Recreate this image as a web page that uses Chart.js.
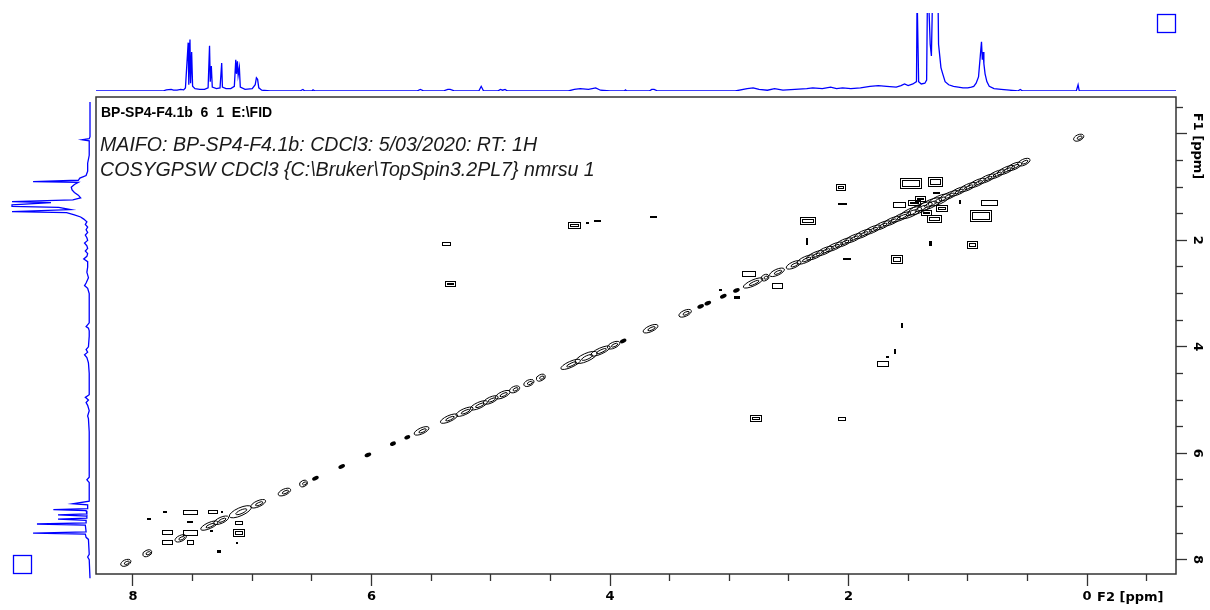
<!DOCTYPE html>
<html>
<head>
<meta charset="utf-8">
<script src="https://cdn.jsdelivr.net/npm/chart.js@4.4.1/dist/chart.umd.min.js"></script>
<style>
  html, body { margin: 0; padding: 0; background: #fff; }
  #wrap { position: relative; width: 1210px; height: 610px; }
  #wrap canvas { position: absolute; left: 0; top: 0; }
</style>
</head>
<body>
<div id="wrap">
  <canvas id="cosy" width="1210" height="610"></canvas>
  <canvas id="projTop" width="1210" height="100"></canvas>
  <canvas id="projLeft" width="100" height="610"></canvas>
</div>
<script>
// spectral windows (ppm)
const f2Window = [-0.746, 8.31];
const f1Window = [-0.695, 8.27];
const f2Labels = [8, 6, 4, 2, 0];
const f1Labels = [2, 4, 6, 8];

// 1D projection along F2 (top trace): shift, relative height
const topShift = [8.31, 7.75, 7.72, 7.68, 7.66, 7.63, 7.60, 7.575, 7.56, 7.537, 7.532, 7.522, 7.517, 7.508, 7.50, 7.48, 7.44, 7.40, 7.37, 7.358, 7.352, 7.343, 7.335, 7.30, 7.27, 7.256, 7.25, 7.22, 7.18, 7.15, 7.138, 7.132, 7.124, 7.118, 7.108, 7.10, 7.06, 7.00, 6.975, 6.965, 6.955, 6.945, 6.92, 6.85, 6.60, 6.575, 6.56, 6.50, 6.49, 6.475, 5.62, 5.59, 5.56, 5.40, 5.36, 5.34, 5.30, 5.10, 5.08, 5.06, 4.94, 4.92, 4.90, 4.88, 4.86, 4.35, 4.30, 4.25, 4.18, 4.12, 4.08, 4.00, 3.88, 3.87, 3.86, 3.67, 3.65, 3.63, 3.60, 2.95, 2.85, 2.80, 2.75, 2.68, 2.62, 2.55, 2.45, 2.35, 2.30, 2.22, 2.15, 2.10, 2.05, 1.98, 1.90, 1.82, 1.75, 1.68, 1.60, 1.56, 1.53, 1.50, 1.46, 1.43, 1.425, 1.418, 1.412, 1.39, 1.36, 1.345, 1.338, 1.33, 1.315, 1.305, 1.295, 1.28, 1.265, 1.25, 1.245, 1.235, 1.225, 1.21, 1.19, 1.16, 1.12, 1.08, 1.04, 1.00, 0.97, 0.95, 0.93, 0.91, 0.895, 0.885, 0.878, 0.872, 0.865, 0.855, 0.84, 0.82, 0.78, 0.72, 0.65, 0.58, 0.56, 0.54, 0.09, 0.075, 0.065, -0.75];
const topHeight = [0, 0, 1.5, 2, 1, 1, 2, 1.5, 4, 62, 8, 66, 10, 50, 6, 3, 2, 2, 4, 58, 12, 32, 5, 3, 4, 36, 5, 3, 3, 6, 40, 22, 38, 20, 30, 5, 2, 3, 8, 17, 15, 4, 1, 0, 0, 2, 0, 0, 1.5, 0, 0, 2, 0, 0, 2, 2, 0, 0, 6, 0, 0, 2, 1, 2, 0, 0, 2, 3, 2, 4, 1, 0, 0, 1.5, 0, 0, 2, 2, 0, 0, 3, 4, 2, 1, 3, 1, 2, 3, 4, 3, 5, 3, 4, 3, 4, 6, 7, 6, 5, 7, 9, 7, 9, 12, 125, 125, 12, 9, 10, 14, 125, 125, 60, 45, 125, 125, 125, 125, 60, 45, 30, 22, 12, 8, 6, 5, 4, 4, 5, 6, 10, 18, 45, 63, 40, 50, 35, 22, 12, 6, 3, 2, 1, 0, 2, 0, 0, 8, 0, 0];

// 1D projection along F1 (left trace): shift, relative height
const leftShift = [-0.6, 0.05, 0.09, 0.11, 0.13, 0.40, 0.55, 0.70, 0.78, 0.83, 0.87, 0.895, 0.91, 0.95, 1.00, 1.05, 1.10, 1.15, 1.20, 1.24, 1.27, 1.29, 1.33, 1.36, 1.38, 1.42, 1.46, 1.48, 1.52, 1.56, 1.60, 1.65, 1.70, 1.75, 1.80, 1.85, 1.90, 1.95, 2.00, 2.05, 2.10, 2.15, 2.20, 2.25, 2.30, 2.35, 2.40, 2.50, 2.60, 2.70, 2.80, 2.85, 2.90, 3.00, 3.30, 3.55, 3.62, 3.65, 3.70, 3.80, 4.00, 4.05, 4.10, 4.15, 4.20, 4.25, 4.30, 4.50, 4.90, 4.95, 5.00, 5.05, 5.10, 5.20, 5.30, 5.35, 5.60, 5.90, 6.45, 6.50, 6.55, 6.90, 6.95, 6.97, 7.04, 7.06, 7.08, 7.14, 7.16, 7.18, 7.22, 7.24, 7.26, 7.31, 7.33, 7.35, 7.48, 7.50, 7.52, 7.58, 7.62, 7.90, 7.95, 8.00, 8.35];
const leftHeight = [0, 0, 1, 10, 1, 1, 3, 3, 5, 13, 15, 73, 15, 20, 24, 23, 20, 15, 12, 22, 100, 50, 100, 100, 40, 25, 100, 30, 20, 12, 8, 4, 6, 3, 5, 3, 6, 4, 3, 7, 4, 3, 6, 3, 4, 8, 3, 3, 4, 2, 5, 7, 3, 1, 1, 1, 5, 2, 1, 1, 2, 5, 3, 7, 4, 3, 2, 1, 1, 6, 2, 5, 3, 1, 3, 2, 1, 1, 1, 4, 1, 1, 22, 3, 3, 47, 5, 4, 41, 4, 4, 41, 5, 5, 68, 6, 5, 73, 6, 5, 2, 1, 3, 1, 0];

// diagonal peaks: centre shift and half extent along the diagonal (ppm)
const diagShift = [8.06, 7.88, 7.60, 7.36, 7.26, 7.10, 6.95, 6.73, 6.57, 6.47, 6.25, 6.03, 5.82, 5.70, 5.58, 5.35, 5.22, 5.10, 5.00, 4.90, 4.80, 4.68, 4.58, 4.33, 4.20, 4.08, 3.97, 3.89, 3.66, 3.37, 3.24, 3.18, 3.05, 2.94, 2.80, 2.70, 2.60, 2.46, 2.36, 2.28, 2.20, 2.12, 2.04, 1.96, 1.88, 1.80, 1.72, 1.64, 1.56, 1.48, 1.40, 1.32, 1.24, 1.16, 1.08, 1.00, 0.92, 0.84, 0.76, 0.68, 0.61, 0.53, 0.07];
const diagHalf = [0.03, 0.025, 0.035, 0.06, 0.05, 0.08, 0.05, 0.04, 0.02, 0.015, 0.015, 0.015, 0.012, 0.012, 0.05, 0.06, 0.06, 0.06, 0.05, 0.05, 0.03, 0.03, 0.025, 0.07, 0.08, 0.07, 0.04, 0.015, 0.05, 0.04, 0.015, 0.015, 0.015, 0.015, 0.07, 0.02, 0.05, 0.05, 0.06, 0.06, 0.06, 0.06, 0.06, 0.06, 0.06, 0.06, 0.06, 0.06, 0.07, 0.08, 0.09, 0.09, 0.08, 0.07, 0.06, 0.06, 0.06, 0.06, 0.06, 0.06, 0.05, 0.04, 0.03];

// cross peaks: F2 shift, F1 shift, extent in F2, extent in F1 (ppm)
const crossF2 = [2.07, 2.05, 1.476, 1.275, 2.344, 2.35, 2.01, 1.60, 1.31, 0.96, 0.82, 0.89, 1.58, 1.28, 1.065, 1.26, 1.40, 1.45, 1.22, 1.35, 5.37, 5.34, 4.30, 4.19, 4.10, 3.635, 2.84, 2.60, 3.07, 2.935, 1.55, 1.61, 1.67, 1.715, 2.06, 2.78, 7.73, 7.52, 7.33, 7.25, 7.87, 7.52, 7.115, 7.71, 7.52, 7.34, 7.12, 7.71, 7.52, 7.13, 7.28];
const crossF1 = [1.00, 1.32, 0.92, 0.89, 1.63, 2.02, 2.35, 2.35, 2.06, 2.08, 1.28, 1.52, 1.325, 1.58, 1.28, 1.11, 1.22, 1.30, 1.40, 1.48, 2.06, 2.81, 1.71, 1.67, 1.635, 1.56, 2.62, 2.85, 2.93, 3.07, 3.60, 4.10, 4.19, 4.31, 5.35, 5.34, 7.10, 7.105, 7.10, 7.10, 7.24, 7.29, 7.30, 7.48, 7.49, 7.46, 7.49, 7.67, 7.67, 7.69, 7.84];
const crossWidth = [0.075, 0.075, 0.18, 0.12, 0.125, 0.02, 0.07, 0.09, 0.025, 0.085, 0.13, 0.18, 0.10, 0.12, 0.02, 0.06, 0.08, 0.10, 0.09, 0.08, 0.07, 0.085, 0.10, 0.025, 0.06, 0.06, 0.11, 0.085, 0.025, 0.05, 0.02, 0.02, 0.025, 0.09, 0.06, 0.09, 0.03, 0.12, 0.075, 0.02, 0.03, 0.05, 0.06, 0.085, 0.12, 0.025, 0.09, 0.085, 0.05, 0.02, 0.03];
const crossHeight = [0.11, 0.03, 0.19, 0.17, 0.13, 0.13, 0.04, 0.15, 0.09, 0.13, 0.09, 0.20, 0.09, 0.13, 0.08, 0.03, 0.10, 0.10, 0.12, 0.10, 0.06, 0.10, 0.11, 0.04, 0.035, 0.03, 0.09, 0.09, 0.04, 0.05, 0.09, 0.10, 0.04, 0.09, 0.06, 0.11, 0.04, 0.08, 0.06, 0.04, 0.04, 0.02, 0.06, 0.075, 0.09, 0.04, 0.13, 0.075, 0.07, 0.03, 0.05];

const tickFont = { family: 'DejaVu Sans', weight: 'bold', size: 13 };
const frameColor = '#333333';

function isHalfStep(v) {
  return Math.abs(v * 2 - Math.round(v * 2)) < 1e-6;
}
function isMajor(v) {
  return Math.abs(v / 2 - Math.round(v / 2)) < 1e-6;
}

// contour outlines around diagonal and cross peaks
const contourPlugin = {
  id: 'contours',
  afterDatasetsDraw(chart) {
    const { ctx, chartArea: a, scales: { x, y } } = chart;
    ctx.save();
    ctx.beginPath();
    ctx.rect(a.left, a.top, a.width, a.height);
    ctx.clip();
    ctx.strokeStyle = '#000';
    ctx.fillStyle = '#000';
    ctx.lineWidth = 1;

    chart.getDatasetMeta(0).data.forEach((pt, i) => {
      const p = diagShift[i], h = diagHalf[i];
      const x1 = x.getPixelForValue(p - h), y1 = y.getPixelForValue(p - h);
      const x2 = x.getPixelForValue(p + h), y2 = y.getPixelForValue(p + h);
      const half = Math.hypot(x2 - x1, y2 - y1) / 2 + 1.5;
      const ang = Math.atan2(y2 - y1, x2 - x1);
      if (half < 4) {
        ctx.beginPath();
        ctx.ellipse(pt.x, pt.y, half, 2, ang, 0, Math.PI * 2);
        ctx.fill();
        return;
      }
      const thick = half > 11 ? 4 : 3;
      ctx.beginPath();
      ctx.ellipse(pt.x, pt.y, half, thick, ang, 0, Math.PI * 2);
      ctx.stroke();
      ctx.beginPath();
      ctx.ellipse(pt.x + 1, pt.y, half * 0.5, thick * 0.45, ang, 0, Math.PI * 2);
      ctx.stroke();
    });

    chart.getDatasetMeta(1).data.forEach((pt, i) => {
      const w = Math.abs(x.getPixelForValue(crossF2[i] - crossWidth[i] / 2) - x.getPixelForValue(crossF2[i] + crossWidth[i] / 2));
      const hgt = Math.abs(y.getPixelForValue(crossF1[i] - crossHeight[i] / 2) - y.getPixelForValue(crossF1[i] + crossHeight[i] / 2));
      const l = Math.round(pt.x - w / 2) + 0.5, t = Math.round(pt.y - hgt / 2) + 0.5;
      if (w < 4 || hgt < 3) {
        ctx.fillRect(Math.round(pt.x - w / 2), Math.round(pt.y - hgt / 2), Math.max(2, Math.round(w)), Math.max(2, Math.round(hgt)));
        return;
      }
      ctx.strokeRect(l, t, Math.round(w), Math.round(hgt));
      if (w > 7 && hgt > 5) {
        ctx.strokeRect(l + 2, t + 2, Math.round(w) - 4, Math.round(hgt) - 4);
      }
    });
    ctx.restore();
  },
  afterDraw(chart) {
    const { ctx, chartArea: a, scales: { x, y } } = chart;
    ctx.save();
    // frame
    ctx.strokeStyle = frameColor;
    ctx.lineWidth = 1.5;
    ctx.strokeRect(a.left, a.top, a.width, a.height);

    // F1 labels, rotated like the acquisition software draws them
    ctx.fillStyle = '#000';
    ctx.font = 'bold 13px "DejaVu Sans"';
    ctx.textAlign = 'center';
    ctx.textBaseline = 'middle';
    f1Labels.forEach(v => {
      ctx.save();
      ctx.translate(a.right + 21, y.getPixelForValue(v));
      ctx.rotate(Math.PI / 2);
      ctx.fillText(String(v), 0, 0);
      ctx.restore();
    });
    ctx.save();
    ctx.translate(a.right + 21, y.getPixelForValue(0) + 12);
    ctx.rotate(Math.PI / 2);
    ctx.fillText('F1 [ppm]', 0, 0);
    ctx.restore();

    // F2 unit after the zero label
    ctx.textAlign = 'left';
    ctx.fillText('F2 [ppm]', x.getPixelForValue(0) + 10, a.bottom + 24);

    // dataset header
    ctx.font = 'bold 14px "Liberation Sans"';
    ctx.fillText('BP-SP4-F4.1b  6  1  E:\\FID', a.left + 5, a.top + 16);
    ctx.fillStyle = '#1a1a1a';
    ctx.font = 'italic 19.6px "Liberation Sans"';
    ctx.fillText('MAIFO: BP-SP4-F4.1b: CDCl3: 5/03/2020: RT: 1H', a.left + 4, a.top + 49);
    ctx.fillText('COSYGPSW CDCl3 {C:\\Bruker\\TopSpin3.2PL7} nmrsu 1', a.left + 4, a.top + 74);

    // projection markers
    ctx.strokeStyle = '#0000ff';
    ctx.lineWidth = 1.3;
    ctx.strokeRect(1157.5, 14.5, 18, 18);
    ctx.strokeRect(13.5, 555.5, 18, 18);
    ctx.restore();
  }
};

new Chart(document.getElementById('cosy'), {
  type: 'scatter',
  data: {
    datasets: [
      { label: 'diagonal', data: diagShift.map(p => ({ x: p, y: p })), pointRadius: 0 },
      { label: 'cross', data: crossF2.map((p, i) => ({ x: p, y: crossF1[i] })), pointRadius: 0 }
    ]
  },
  options: {
    responsive: false,
    animation: false,
    events: [],
    layout: { padding: { left: 96, top: 97, right: 4, bottom: 6 } },
    plugins: { legend: { display: false }, tooltip: { enabled: false } },
    scales: {
      x: {
        type: 'linear',
        position: 'bottom',
        reverse: true,
        min: f2Window[0],
        max: f2Window[1],
        afterBuildTicks: s => { s.ticks = s.ticks.filter(t => isHalfStep(t.value)); },
        afterFit: s => { s.height = 30; },
        border: { display: false },
        grid: {
          drawOnChartArea: false,
          drawTicks: true,
          tickLength: 12,
          tickColor: frameColor,
          tickWidth: 1.3,
          tickBorderDash: c => (c.tick && !isMajor(c.tick.value)) ? [7, 30] : []
        },
        ticks: {
          stepSize: 0.5,
          includeBounds: false,
          autoSkip: false,
          maxRotation: 0,
          minRotation: 0,
          padding: 3,
          color: '#000',
          font: tickFont,
          callback: v => f2Labels.some(l => Math.abs(l - v) < 1e-6) ? String(Math.round(v)) : ''
        }
      },
      y: {
        type: 'linear',
        position: 'right',
        reverse: true,
        min: f1Window[0],
        max: f1Window[1],
        afterBuildTicks: s => { s.ticks = s.ticks.filter(t => isHalfStep(t.value)); },
        afterFit: s => { s.width = 30; },
        border: { display: false },
        grid: {
          drawOnChartArea: false,
          drawTicks: true,
          tickLength: 11,
          tickColor: frameColor,
          tickWidth: 1.3,
          tickBorderDash: c => (c.tick && !isMajor(c.tick.value)) ? [7, 30] : []
        },
        ticks: { stepSize: 0.5, includeBounds: false, autoSkip: false, display: false }
      }
    }
  },
  plugins: [contourPlugin]
});

// top projection (F2)
new Chart(document.getElementById('projTop'), {
  type: 'scatter',
  data: {
    datasets: [{
      data: topShift.map((p, i) => ({ x: p, y: topHeight[i] })),
      showLine: true,
      borderColor: '#0000ff',
      borderWidth: 1.3,
      pointRadius: 0
    }]
  },
  options: {
    responsive: false,
    animation: false,
    events: [],
    layout: { padding: { left: 96, right: 34, top: 13, bottom: 9 } },
    plugins: { legend: { display: false }, tooltip: { enabled: false } },
    scales: {
      x: { type: 'linear', reverse: true, min: f2Window[0], max: f2Window[1], display: false },
      y: { type: 'linear', min: 0, max: 100, display: false }
    }
  }
});

// left projection (F1)
new Chart(document.getElementById('projLeft'), {
  type: 'scatter',
  data: {
    datasets: [{
      data: leftShift.map((p, i) => ({ x: leftHeight[i], y: p })),
      showLine: true,
      borderColor: '#0000ff',
      borderWidth: 1.3,
      pointRadius: 0,
      clip: false
    }]
  },
  options: {
    responsive: false,
    animation: false,
    events: [],
    layout: { padding: { left: 12, right: 10, top: 97, bottom: 36 } },
    plugins: { legend: { display: false }, tooltip: { enabled: false } },
    scales: {
      x: { type: 'linear', reverse: true, min: 0, max: 100, display: false },
      y: { type: 'linear', reverse: true, min: f1Window[0], max: f1Window[1], display: false }
    }
  }
});
</script>
</body>
</html>
